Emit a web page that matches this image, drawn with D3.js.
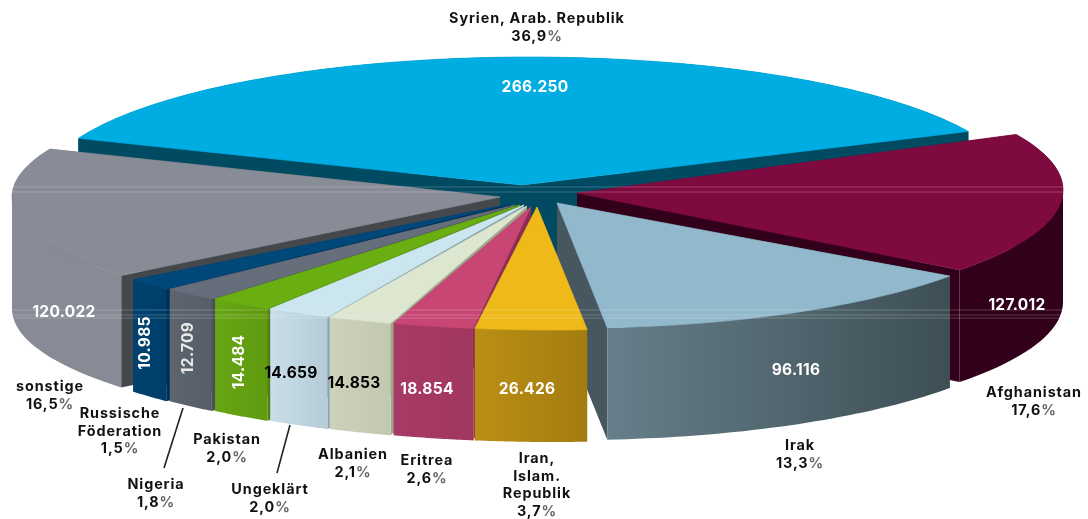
<html>
<head>
<meta charset="utf-8">
<style>
body{margin:0;padding:0;background:#fff;overflow:hidden;}
svg{display:block;filter:blur(0.4px);}
text{font-family:Inter,"Open Sans",sans-serif;font-weight:700;}
</style>
<script src="https://cdn.jsdelivr.net/npm/d3@7"></script>
</head>
<body>
<div id="chart"></div>
<script>
// data, clockwise from the top slice
var categories = ["Syrien, Arab. Republik","Afghanistan","Irak","Iran, Islam. Republik","Eritrea","Albanien","Ungeklärt","Pakistan","Nigeria","Russische Föderation","sonstige"];
var labelLines = [["Syrien, Arab. Republik"],["Afghanistan"],["Irak"],["Iran,","Islam.","Republik"],["Eritrea"],["Albanien"],["Ungeklärt"],["Pakistan"],["Nigeria"],["Russische","Föderation"],["sonstige"]];
var values = [266250,127012,96116,26426,18854,14853,14659,14484,12709,10985,120022];
var shares = [36.9,17.6,13.3,3.7,2.6,2.1,2.0,2.0,1.8,1.5,16.5];

// colours per slice
var topColors = ["#00ade2","#7f0a40","#91b9cb","#efb91a","#c84673","#dde6cf","#cbe6ee","#6aaf12","#666e7b","#00477a","#888c96"];
var sideColors = ["#004a62","#32001a","#46575f","#8f6c0d","#8c2d55","#9fa58c","#8aa3b0","#4f7f0d","#4b515b","#003155","#44474c"];
var rimLeft = ["#004a62","#32001a","#667f8a","#bb8f15","#a83a66","#cdd1ba","#c9dee7","#68a613","#5c6470","#00426f","#878b95"];
var rimRight = ["#004a62","#32001a","#3d4e55","#a37c10","#a0375f","#c3c8b0","#b4ccd8","#5f9a10","#565e69","#003e69","#878b95"];
var valueColors = ["#fff","#fff","#fff","#fff","#fff","#000","#000","#fff","#e8e8e8","#fff","#fff"];

// layout of the exploded slices, the rim and the tip are fitted separately for each one
var rimX = [529,575,573,552,552,552,552,552,552,552,532];
var rimY = [187,190,193,200,200,200,200,200,200,200,197];
var radiusX = [486,488,478,490,500,510,515,520,525,530,520];
var radiusY = [130,130,135,130,130,130,130,130,130,130,128];
var tipX = [522,577,557,537,531,527,524,520,515,510,500];
var tipY = [185,193,203,207,207,206,205,205,205,204,197];
var depth = 112;
var paintOrder = [0,1,10,2,9,8,7,6,5,4,3];

var valueX = [535,1017,796,527,427,354,291,238,187,144,64];
var valueY = [86,304,369,388,388,382,372,362,348,343,311];
var valueTurn = [0,0,0,0,0,0,0,-90,-90,-90,0];
var labelX = [537,1034,800,537,427,353,270,227,156,120,50];
var labelY = [18,392,445,458,460,454,489,439,484,413,386];
var leaders = [[183,408,164,468],[290,425,277,473]];

var lineGap = 17.6;
var format = d3.formatLocale({decimal:",",thousands:".",grouping:[3],currency:["","€"]}).format(",d");

var svg = d3.select("#chart").append("svg")
 .attr("width",1088)
 .attr("height",519);
var defs = svg.append("defs");

var slices = d3.pie()
 .sort(null)
 .startAngle(-68*Math.PI/180)
 .endAngle(292*Math.PI/180)(values);

function rimPoint(i,a){
 return [rimX[i]+radiusX[i]*Math.sin(a), rimY[i]-radiusY[i]*Math.cos(a)];
}
function rimPoints(i){
 var s = slices[i];
 return d3.range(0,41).map(function(k){ return rimPoint(i,s.startAngle+(s.endAngle-s.startAngle)*k/40); });
}
function down(p){ return [p[0],p[1]+depth]; }
var path = d3.line();

// the wall folds over where the rim turns back in x, so cut it there
function wallParts(pts){
 var parts = [[pts[0]]];
 for(var k=1;k<pts.length;k++){
  if(k>1 && (pts[k][0]-pts[k-1][0])*(pts[k-1][0]-pts[k-2][0])<0) parts.push([pts[k-1]]);
  parts[parts.length-1].push(pts[k]);
 }
 return parts;
}

paintOrder.forEach(function(i){
 var pts = rimPoints(i);
 var tip = [tipX[i],tipY[i]];
 var g = svg.append("g").attr("class","slice");
 var xs = d3.extent(pts,function(p){ return p[0]; });

 var grad = defs.append("linearGradient")
  .attr("id","rim"+i)
  .attr("gradientUnits","userSpaceOnUse")
  .attr("x1",xs[0]).attr("x2",xs[1])
  .attr("y1",0).attr("y2",0);
 grad.append("stop").attr("offset",0).attr("stop-color",rimLeft[i]);
 grad.append("stop").attr("offset",1).attr("stop-color",rimRight[i]);

 // the two cut faces
 [pts[0],pts[pts.length-1]].forEach(function(c){
  g.append("path")
   .attr("d",path([tip,c,down(c),down(tip)])+"Z")
   .attr("fill",sideColors[i]);
 });
 // outer wall
 wallParts(pts).forEach(function(part){
  g.append("path")
   .attr("d",path(part.concat(part.slice().reverse().map(down)))+"Z")
   .attr("fill","url(#rim"+i+")");
 });
 // top, thin stroke closes the light seam against the wall
 g.append("path")
  .attr("d",path([tip].concat(pts))+"Z")
  .attr("fill",topColors[i])
  .attr("stroke",topColors[i])
  .attr("stroke-width",0.7);
});

// pale scan lines that run across the picture
[187,192,310,315,318].forEach(function(y){
 svg.append("line")
  .attr("x1",0).attr("x2",1088)
  .attr("y1",y).attr("y2",y)
  .attr("stroke","#fff")
  .attr("stroke-opacity",0.22)
  .attr("stroke-width",1.2);
});

leaders.forEach(function(l){
 svg.append("line")
  .attr("x1",l[0]).attr("y1",l[1])
  .attr("x2",l[2]).attr("y2",l[3])
  .attr("stroke","#222")
  .attr("stroke-width",1.6);
});

// values on the slices
svg.selectAll("text.value")
 .data(values)
 .enter()
 .append("text")
 .attr("class","value")
 .attr("text-anchor","middle")
 .attr("dominant-baseline","central")
 .attr("font-size","15.5px")
 .attr("letter-spacing","0.3px")
 .attr("fill",function(d,i){ return valueColors[i]; })
 .attr("transform",function(d,i){ return "translate("+valueX[i]+","+valueY[i]+") rotate("+valueTurn[i]+")"; })
 .text(function(d){ return format(d); });

// outer labels, name and share
labelLines.forEach(function(lines,i){
 var t = svg.append("text")
  .attr("class","label")
  .attr("text-anchor","middle")
  .attr("font-size","14.4px")
  .attr("letter-spacing","0.9px")
  .attr("fill","#111");
 lines.forEach(function(line,k){
  t.append("tspan")
   .attr("x",labelX[i])
   .attr("y",labelY[i]+k*lineGap+5)
   .text(line);
 });
 t.append("tspan")
  .attr("x",labelX[i])
  .attr("y",labelY[i]+lines.length*lineGap+5)
  .text(shares[i].toFixed(1).replace(".",","));
 t.append("tspan").attr("fill","#666").text("%");
});
</script>
</body>
</html>
